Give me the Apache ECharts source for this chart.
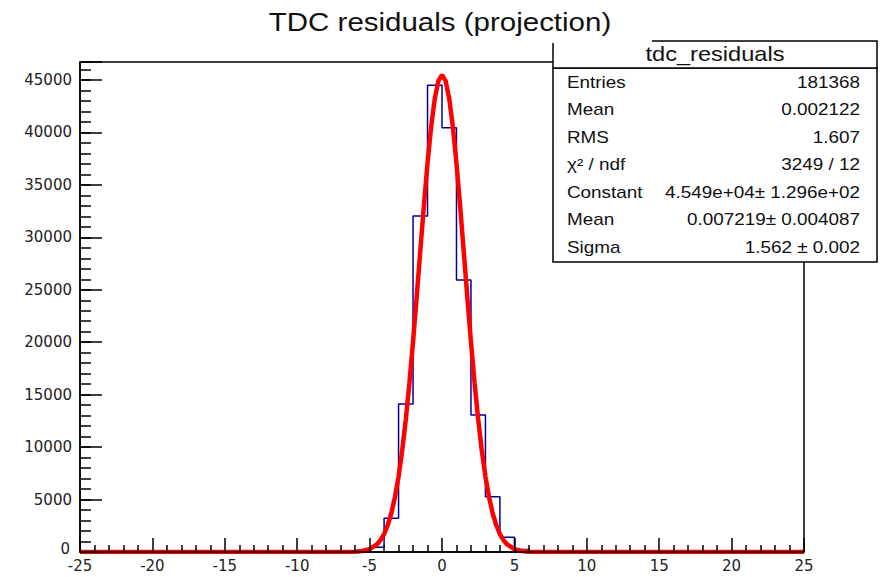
<!DOCTYPE html>
<html><head><meta charset="utf-8">
<script src="https://cdn.jsdelivr.net/npm/echarts@6/dist/echarts.min.js"></script>
<style>html,body{margin:0;padding:0;background:#fff}#c{width:885px;height:577px}</style>
</head><body><div id="c"></div>
<script>
// ---- data ----
const titleText = 'TDC residuals (projection)';
const histName = 'tdc_residuals';
const xMin = -25, xMax = 25, binWidth = 1;
const yMax = 46715;
// 50 bins of width 1 from -25 to 25
const counts = [
  0,0,0,0,0,0,0,0,0,0, 0,0,0,0,0,0,0,0,0,150,
  450,3210,14110,32030,44490,40450,25930,13060,5270,1400,
  250,80,0,0,0,0,0,0,0,0, 0,0,0,0,0,0,0,0,0,0
];
// Gaussian fit curve
const fitX = [-25,-7,-6.5,-6,-5.5,-5,-4.5,-4.25,-4,-3.75,-3.5,-3.25,-3,-2.75,-2.5,-2.25,-2,-1.75,-1.5,-1.25,-1,-0.75,-0.5,-0.25,0,
  0.25,0.5,0.75,1,1.25,1.5,1.75,2,2.25,2.5,2.75,3,3.25,3.5,3.75,4,4.25,4.5,5,5.5,6,6.5,7,25];
const fitY = [0,2,8,28,92,271,717,1123,1714,2549,3696,5222,7193,9659,12638,16120,20042,24286,28686,33027,37061,40537,43218,44911,45490,
  44911,43218,40537,37061,33027,28686,24286,20042,16120,12638,9659,7193,5222,3696,2549,1714,1123,717,271,92,28,8,2,0];
const statLabels = ['Entries','Mean','RMS','\u03c7\u00b2 / ndf','Constant','Mean','Sigma'];
const statValues = ['181368','0.002122','1.607','3249 / 12','4.549e+04\u00b1 1.296e+02','0.007219\u00b1 0.004087','1.562 \u00b1 0.002'];

// ---- build ----
const histData = counts.map((c, i) => [xMin + i * binWidth, c]);
histData.push([xMax, counts[counts.length - 1]]);
const fitData = fitX.map((x, i) => [x, fitY[i]]);

const FONT = '"Liberation Sans", Arial, sans-serif';
const AXFONT = '"DejaVu Sans", sans-serif';
const SX = 1.18;
const txtColor = '#111';

const graphics = [];
// stats box
const bx0 = 553, bx1 = 877, hy0 = 41, hy1 = 68, by1 = 262;
graphics.push({type:'rect', z:100, shape:{x:bx0, y:hy1, width:bx1-bx0, height:by1-hy1},
  style:{fill:'#fff', stroke:'#000', lineWidth:1.5}});
graphics.push({type:'rect', z:100, shape:{x:bx0, y:hy0, width:bx1-bx0, height:hy1-hy0},
  style:{fill:'#fff', stroke:'#000', lineWidth:1.5}});
graphics.push({type:'text', z:102, x:(bx0+bx1)/2, y:54.5, scaleX:SX,
  style:{text:histName, font:'20px '+FONT, fill:txtColor, textAlign:'center', textVerticalAlign:'middle'}});
const rowY0 = 82.5, rowDy = 27.5;
statLabels.forEach((lab, i) => {
  graphics.push({type:'text', z:102, x:567, y:rowY0 + i*rowDy, scaleX:SX,
    style:{text:lab, font:'16px '+FONT, fill:txtColor, textAlign:'left', textVerticalAlign:'middle'}});
  graphics.push({type:'text', z:102, x:860, y:rowY0 + i*rowDy, scaleX:SX,
    style:{text:statValues[i], font:'16px '+FONT, fill:txtColor, textAlign:'right', textVerticalAlign:'middle'}});
});
// title background (covers part of the header box) + title
graphics.push({type:'rect', z:103, shape:{x:228, y:0, width:424, height:43}, style:{fill:'#fff'}});
graphics.push({type:'text', z:104, x:440, y:22.5, scaleX:SX,
  style:{text:titleText, font:'25px '+FONT, fill:txtColor, textAlign:'center', textVerticalAlign:'middle'}});

const chart = echarts.init(document.getElementById('c'), null, {renderer:'svg'});
chart.setOption({
  animation:false,
  backgroundColor:'#fff',
  grid:{left:80, right:81, top:62, bottom:25, show:true, borderColor:'#000', borderWidth:1.5, backgroundColor:'transparent'},
  xAxis:{type:'value', min:xMin, max:xMax, interval:5, z:5,
    axisLine:{show:true, onZero:false, lineStyle:{color:'#000', width:1.5}},
    axisTick:{show:true, inside:true, length:14, lineStyle:{color:'#000', width:1.5}},
    minorTick:{show:true, splitNumber:5, length:7, lineStyle:{color:'#000', width:1.5}},
    splitLine:{show:false},
    axisLabel:{show:true, margin:6, color:'#222', fontFamily:AXFONT, fontSize:15, showMinLabel:true, showMaxLabel:true}
  },
  yAxis:[
    {type:'value', min:0, max:yMax, interval:1000, z:5, position:'left',
      axisLine:{show:true, onZero:false, lineStyle:{color:'#000', width:1.5}},
      axisTick:{show:true, inside:true, length:11, lineStyle:{color:'#000', width:1.5}},
      splitLine:{show:false},
      axisLabel:{show:true, margin:8, color:'#222', fontFamily:AXFONT, fontSize:15,
        formatter:v => (v === 0 ? '{z|0}' : (v % 5000 === 0 ? String(v) : '')),
        rich:{z:{fontFamily:AXFONT, fontSize:15, color:'#222', padding:[0,2,6,0]}}}
    },
    {type:'value', min:0, max:yMax, interval:5000, z:5, position:'left', offset:0,
      axisLine:{show:false, onZero:false},
      axisTick:{show:true, inside:true, length:22, lineStyle:{color:'#000', width:1.5}},
      splitLine:{show:false},
      axisLabel:{show:false}
    }
  ],
  series:[
    {type:'line', name:'hist', data:histData, step:'end', symbol:'none', yAxisIndex:0,
      lineStyle:{color:'#000099', width:1.5}, z:2},
    {type:'line', name:'fit', data:fitData, symbol:'none', yAxisIndex:0,
      lineStyle:{color:'#ff0000', width:4.5}, z:3}
  ],
  graphic:graphics
});
</script>
</body></html>
